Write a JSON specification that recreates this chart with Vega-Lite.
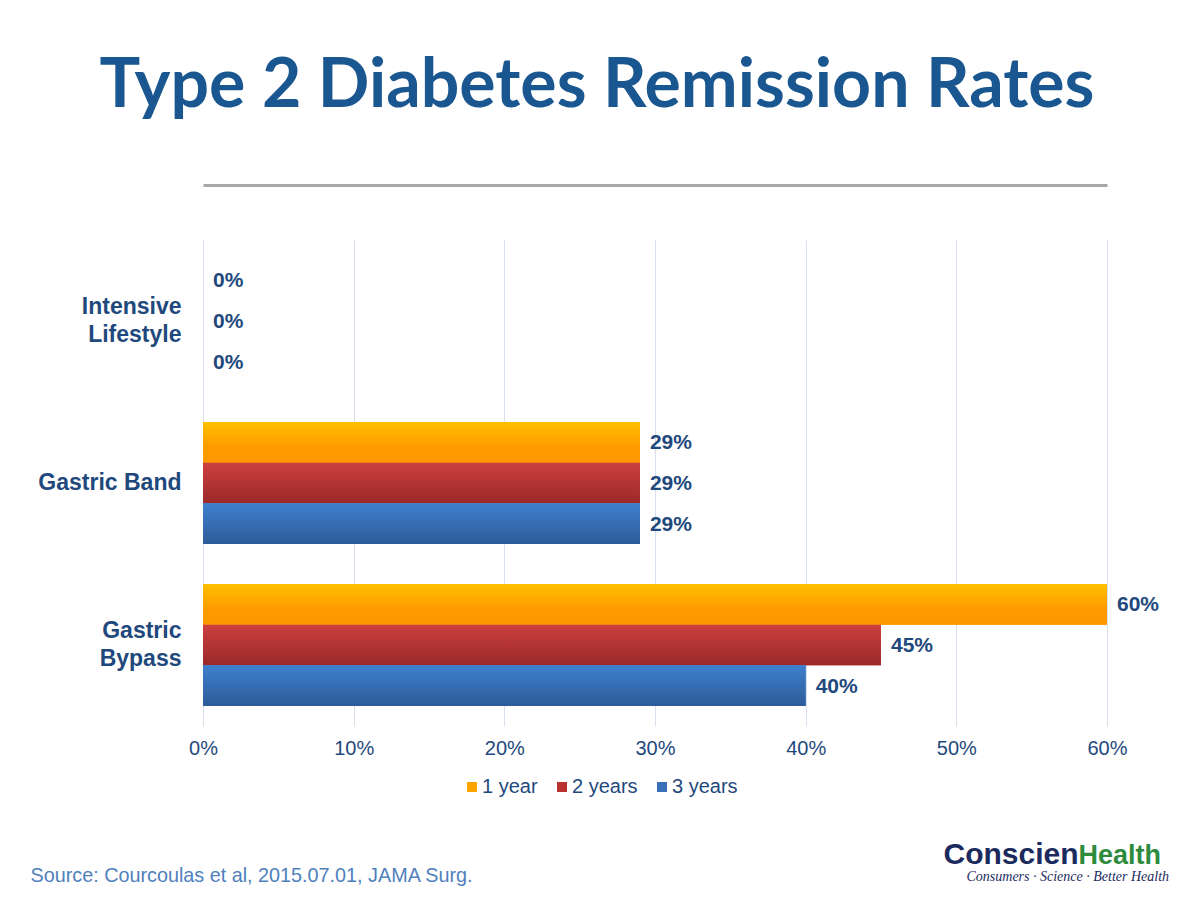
{
  "$schema": "https://vega.github.io/schema/vega-lite/v6.json",
  "autosize": {"type": "none"},
  "width": 904,
  "height": 486,
  "padding": {"left": 203, "top": 240, "right": 88, "bottom": 171},
  "background": "white",
  "title": {
    "text": "Type 2 Diabetes Remission Rates",
    "font": "Lato",
    "fontSize": 68,
    "fontWeight": "bold",
    "color": "#1A5690",
    "anchor": "middle",
    "frame": "group",
    "dx": -58,
    "baseline": "alphabetic",
    "offset": 10
  },
  "config": {
    "view": {"stroke": null},
    "font": "Liberation Sans"
  },
  "data": {
    "values": [
      {"treatment": "Intensive Lifestyle", "period": "1 year", "rate": 0},
      {"treatment": "Intensive Lifestyle", "period": "2 years", "rate": 0},
      {"treatment": "Intensive Lifestyle", "period": "3 years", "rate": 0},
      {"treatment": "Gastric Band", "period": "1 year", "rate": 0.29},
      {"treatment": "Gastric Band", "period": "2 years", "rate": 0.29},
      {"treatment": "Gastric Band", "period": "3 years", "rate": 0.29},
      {"treatment": "Gastric Bypass", "period": "1 year", "rate": 0.60},
      {"treatment": "Gastric Bypass", "period": "2 years", "rate": 0.45},
      {"treatment": "Gastric Bypass", "period": "3 years", "rate": 0.40}
    ]
  },
  "resolve": {"axis": {"x": "independent", "y": "independent"}},
  "layer": [
    {
      "mark": {"type": "bar"},
      "encoding": {
        "x": {
          "field": "rate", "type": "quantitative",
          "scale": {"domain": [0, 0.6], "nice": false, "zero": true},
          "axis": {
            "values": [0, 0.1, 0.2, 0.3, 0.4, 0.5, 0.6],
            "format": ".0%",
            "labelFontSize": 20,
            "labelColor": "#1F497D",
            "labelFont": "Liberation Sans",
            "labelPadding": 12,
            "labelFlush": false,
            "ticks": false,
            "domain": false,
            "grid": true,
            "gridColor": "#D6DFEC",
            "gridWidth": 1,
            "title": "Source: Courcoulas et al, 2015.07.01, JAMA Surg.",
            "titleFont": "Liberation Sans",
            "titleFontSize": 19.8,
            "titleFontWeight": "normal",
            "titleColor": "#4F81BD",
            "titleAnchor": "start",
            "titleAlign": "left",
            "titleBaseline": "alphabetic",
            "titleX": -173,
            "titleY": 155
          }
        },
        "y": {
          "field": "treatment", "type": "nominal",
          "scale": {"domain": ["Intensive Lifestyle", "Gastric Band", "Gastric Bypass"], "paddingInner": 0.247, "paddingOuter": 0.1235},
          "axis": {
            "labelExpr": "datum.label == 'Intensive Lifestyle' ? ['Intensive', 'Lifestyle'] : datum.label == 'Gastric Bypass' ? ['Gastric', 'Bypass'] : datum.label",
            "labelOffset": {"condition": {"test": "datum.label == 'Gastric Band'", "value": 0}, "value": -14},
            "labelFontSize": 23,
            "labelFontWeight": "bold",
            "labelColor": "#1F497D",
            "labelFont": "Liberation Sans",
            "labelLineHeight": 28,
            "labelPadding": 22,
            "labelLimit": 300,
            "ticks": false,
            "domain": false,
            "grid": false,
            "title": "Conscien",
            "titleAngle": 0,
            "titleFont": "Liberation Sans",
            "titleFontSize": 30,
            "titleFontWeight": "bold",
            "titleColor": "#1B2B5E",
            "titleAlign": "left",
            "titleBaseline": "alphabetic",
            "titleX": 740,
            "titleY": 623
          }
        },
        "yOffset": {
          "field": "period", "type": "nominal",
          "scale": {"domain": ["1 year", "2 years", "3 years"], "paddingInner": 0, "paddingOuter": 0}
        },
        "color": {
          "field": "period", "type": "nominal",
          "scale": {"domain": ["1 year", "2 years", "3 years"], "range": ["#FFA500", "#B83232", "#3A70B8"]},
          "legend": {
            "orient": "none",
            "legendX": 259,
            "legendY": 537,
            "direction": "horizontal",
            "title": null,
            "symbolType": "square",
            "symbolSize": 100,
            "symbolStrokeWidth": 0,
            "labelFontSize": 20,
            "labelFont": "Liberation Sans",
            "labelColor": "#1F497D",
            "labelOffset": 0,
            "columnPadding": 14
          }
        }
      }
    },
    {
      "transform": [{"filter": "datum.period == '1 year'"}],
      "mark": {"type": "bar", "color": {"gradient": "linear", "x1": 0, "y1": 0, "x2": 0, "y2": 1, "stops": [{"offset": 0, "color": "#FFC000"}, {"offset": 0.6, "color": "#FF9B00"}, {"offset": 1, "color": "#FF9800"}]}},
      "encoding": {
        "x": {"field": "rate", "type": "quantitative", "scale": {"domain": [0, 0.6], "nice": false, "zero": true}, "axis": null},
        "y": {"field": "treatment", "type": "nominal", "scale": {"domain": ["Intensive Lifestyle", "Gastric Band", "Gastric Bypass"], "paddingInner": 0.247, "paddingOuter": 0.1235}, "axis": null},
        "yOffset": {"field": "period", "type": "nominal", "scale": {"domain": ["1 year", "2 years", "3 years"], "paddingInner": 0, "paddingOuter": 0}}
      }
    },
    {
      "transform": [{"filter": "datum.period == '2 years'"}],
      "mark": {"type": "bar", "color": {"gradient": "linear", "x1": 0, "y1": 0, "x2": 0, "y2": 1, "stops": [{"offset": 0, "color": "#CD3F3F"}, {"offset": 1, "color": "#9A2929"}]}},
      "encoding": {
        "x": {"field": "rate", "type": "quantitative", "scale": {"domain": [0, 0.6], "nice": false, "zero": true}, "axis": null},
        "y": {"field": "treatment", "type": "nominal", "scale": {"domain": ["Intensive Lifestyle", "Gastric Band", "Gastric Bypass"], "paddingInner": 0.247, "paddingOuter": 0.1235}, "axis": null},
        "yOffset": {"field": "period", "type": "nominal", "scale": {"domain": ["1 year", "2 years", "3 years"], "paddingInner": 0, "paddingOuter": 0}}
      }
    },
    {
      "transform": [{"filter": "datum.period == '3 years'"}],
      "mark": {"type": "bar", "color": {"gradient": "linear", "x1": 0, "y1": 0, "x2": 0, "y2": 1, "stops": [{"offset": 0, "color": "#3E80CE"}, {"offset": 1, "color": "#2D5B98"}]}},
      "encoding": {
        "x": {"field": "rate", "type": "quantitative", "scale": {"domain": [0, 0.6], "nice": false, "zero": true}, "axis": null},
        "y": {"field": "treatment", "type": "nominal", "scale": {"domain": ["Intensive Lifestyle", "Gastric Band", "Gastric Bypass"], "paddingInner": 0.247, "paddingOuter": 0.1235}, "axis": null},
        "yOffset": {"field": "period", "type": "nominal", "scale": {"domain": ["1 year", "2 years", "3 years"], "paddingInner": 0, "paddingOuter": 0}}
      }
    },
    {
      "mark": {"type": "text", "align": "left", "baseline": "middle", "dx": 10, "dy": 1, "font": "Liberation Sans", "fontSize": 21, "fontWeight": "bold", "color": "#1F497D"},
      "encoding": {
        "x": {
          "field": "rate", "type": "quantitative",
          "scale": {"domain": [0, 0.6], "nice": false, "zero": true},
          "axis": {
            "orient": "top",
            "offset": 55,
            "labels": false,
            "ticks": false,
            "grid": false,
            "domain": true,
            "domainColor": "#A8A8A8",
            "domainWidth": 3,
            "title": "Consumers · Science · Better Health",
            "titleFont": "Liberation Serif",
            "titleFontSize": 14,
            "titleFontStyle": "italic",
            "titleFontWeight": "normal",
            "titleColor": "#1B2B5E",
            "titleAlign": "left",
            "titleAnchor": "start",
            "titleBaseline": "alphabetic",
            "titleX": 763,
            "titleY": 695
          }
        },
        "y": {
          "field": "treatment", "type": "nominal",
          "scale": {"domain": ["Intensive Lifestyle", "Gastric Band", "Gastric Bypass"], "paddingInner": 0.247, "paddingOuter": 0.1235},
          "axis": {
            "orient": "right",
            "labels": false,
            "ticks": false,
            "grid": false,
            "domain": false,
            "title": "Health",
            "titleAngle": 0,
            "titleFont": "Liberation Sans",
            "titleFontSize": 27,
            "titleFontWeight": "bold",
            "titleColor": "#2E8B3E",
            "titleAlign": "left",
            "titleBaseline": "alphabetic",
            "titleX": -29,
            "titleY": 623
          }
        },
        "yOffset": {"field": "period", "type": "nominal", "scale": {"domain": ["1 year", "2 years", "3 years"], "paddingInner": 0, "paddingOuter": 0}},
        "text": {"field": "rate", "type": "quantitative", "format": ".0%"}
      }
    }
  ]
}
